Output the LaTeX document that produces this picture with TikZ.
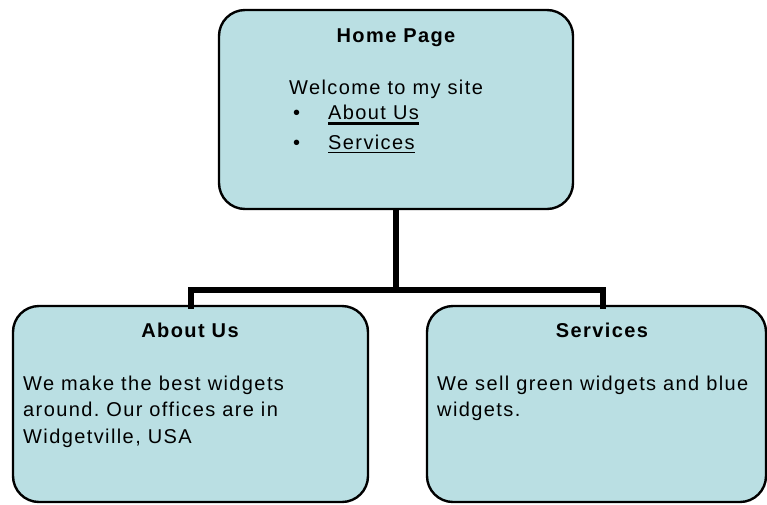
\documentclass[tikz,border=0pt]{standalone}
\usepackage{fontspec}
\setmainfont[LetterSpace=7]{Liberation Sans}
\definecolor{boxfill}{RGB}{186,223,227}
\frenchspacing
\begin{document}
\begin{tikzpicture}[x=1pt,y=1pt,
  pagebox/.style={draw=black,line width=2.4pt,fill=boxfill,rounded corners=26pt,inner sep=0pt},
  conn/.style={draw=black,line width=5.5pt},
  heading/.style={anchor=base,inner sep=0pt,font=\fontsize{20}{26.5}\selectfont\bfseries},
  bodytext/.style={anchor=base west,inner sep=0pt,align=left,font=\fontsize{20}{26.5}\selectfont}]
\useasboundingbox (0,0) rectangle (767,-504);
% boxes
\node[pagebox,minimum width=354pt,minimum height=199pt] (home) at (396,-109.5) {};
\node[pagebox,minimum width=355pt,minimum height=196pt] (about) at (190.5,-404) {};
\node[pagebox,minimum width=339pt,minimum height=196pt] (services) at (596.5,-404) {};
% connectors
\coordinate (bar) at (396,-290);
\coordinate (aboutdrop) at (191,-306);
\coordinate (servdrop) at (603,-306);
\draw[conn] (home.south) -- (home.south |- bar);
\draw[conn,line cap=rect] (aboutdrop) |- (bar) -| (servdrop);
% home texts
\node[heading] (hometitle) at (396,-42) {Home Page};
\node[bodytext] (welcome) at (289,-94) {Welcome to my site};
\node[bodytext] (bul1) at (293,-119) {•};
\node[bodytext] (link1) at (328,-119) {About Us};
\node[bodytext] (bul2) at (293,-149) {•};
\node[bodytext] (link2) at (328,-149) {Services};
\draw[line width=2.6pt] ([yshift=-4.5pt]link1.base west) -- ([yshift=-4.5pt]link1.base east);
\draw[line width=1.2pt] ([yshift=-3.5pt]link2.base west) -- ([yshift=-3.5pt]link2.base east);
% about texts
\node[heading] (abouttitle) at (190,-337) {About Us};
\node[bodytext] (abouttext) at (23,-443) {We make the best widgets\\around. Our offices are in\\Widgetville, USA};
% services texts
\node[heading] (servtitle) at (602,-337) {Services};
\node[bodytext] (servtext) at (437,-416.5) {We sell green widgets and blue\\widgets.};
\end{tikzpicture}
\end{document}
